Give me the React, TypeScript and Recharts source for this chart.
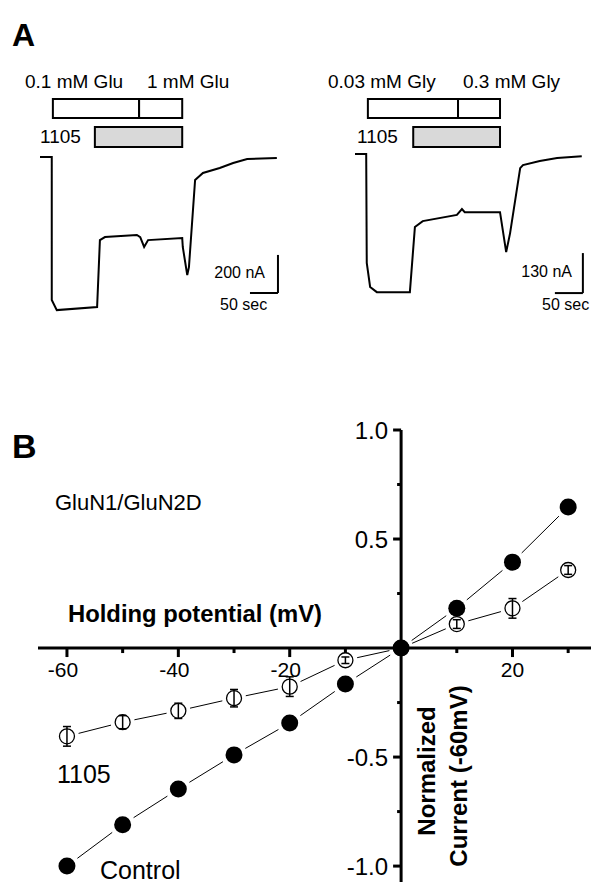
import { LineChart, Line, XAxis, YAxis, ReferenceArea, ReferenceLine, ErrorBar } from 'recharts';

const FONT = "'Liberation Sans', Arial, sans-serif";

// Panel A: current traces (time in sec, current in nA relative to baseline)
const gluTime = [0, 21, 21, 30, 102, 107, 116, 173, 179, 186, 193, 254, 255, 263, 266, 277, 291, 321, 345, 370, 423];
const gluCurrent = [0, 0, -752, -805, -789, -437, -421, -410, -421, -473, -437, -426, -473, -621, -579, -121, -84, -58, -32, -11, -5];
const glyTime = [0, 20, 21, 27, 39, 98, 107, 121, 182, 191, 196, 259, 270, 277, 295, 300, 330, 361, 405];
const glyCurrent = [0, 0, -354, -432, -449, -449, -237, -218, -198, -179, -189, -189, -319, -257, -46, -36, -23, -13, -7];

// application periods (sec)
const gluLow = [23, 177];
const gluHigh = [177, 254];
const gluDrug = [98, 254];
const glyLow = [23, 184];
const glyHigh = [184, 259];
const glyDrug = [104, 259];

// Panel B: I-V relation
const voltages = [-60, -50, -40, -30, -20, -10, 0, 10, 20, 30];
const controlCurrent = [-1.0, -0.81, -0.647, -0.49, -0.344, -0.165, 0, 0.183, 0.394, 0.647];
const drugCurrent = [-0.405, -0.34, -0.288, -0.23, -0.177, -0.056, 0, 0.11, 0.182, 0.358];
const drugSem = [0.045, 0.03, 0.035, 0.04, 0.045, 0.015, 0, 0.02, 0.045, 0.02];
const xTicks = [-60, -50, -40, -30, -20, -10, 0, 10, 20, 30];
const xLabelled = [-60, -40, -20, 20];
const yTicks = [-1, -0.75, -0.5, -0.25, 0, 0.25, 0.5, 0.75, 1];
const yLabelled = [-1, -0.5, 0.5, 1];

const ivData = voltages.map((v, i) => ({
  v,
  control: controlCurrent[i],
  drug: drugCurrent[i],
  drugErr: drugSem[i],
}));

interface TraceProps {
  time: number[];
  current: number[];
  left: number;
  width: number;
  xMax: number;
  yDomain: [number, number];
  low: number[];
  high: number[];
  drug: number[];
  boxes: { solTop: number; solBottom: number; drugTop: number; drugBottom: number };
  bar: { t: number; t0: number; y1: number; y2: number };
}

const Trace = ({ time, current, left, width, xMax, yDomain, low, high, drug, boxes, bar }: TraceProps) => {
  const data = time.map((t, i) => ({ t, i: current[i] }));
  return (
    <div style={{ position: 'absolute', left, top: 90 }}>
      <LineChart width={width} height={230} data={data} margin={{ top: 0, right: 0, bottom: 0, left: 0 }}>
        <XAxis type="number" dataKey="t" domain={[0, xMax]} hide />
        <YAxis type="number" domain={yDomain} hide />
        <ReferenceArea x1={low[0]} x2={low[1]} y1={boxes.solBottom} y2={boxes.solTop} fill="#fff" fillOpacity={1} stroke="#000" strokeWidth={2} />
        <ReferenceArea x1={high[0]} x2={high[1]} y1={boxes.solBottom} y2={boxes.solTop} fill="#fff" fillOpacity={1} stroke="#000" strokeWidth={2} />
        <ReferenceArea x1={drug[0]} x2={drug[1]} y1={boxes.drugBottom} y2={boxes.drugTop} fill="#d9d9d9" fillOpacity={1} stroke="#000" strokeWidth={2} />
        <ReferenceLine segment={[{ x: bar.t, y: bar.y1 }, { x: bar.t, y: bar.y2 }]} stroke="#000" strokeWidth={2} />
        <ReferenceLine segment={[{ x: bar.t0, y: bar.y2 }, { x: bar.t, y: bar.y2 }]} stroke="#000" strokeWidth={2} />
        <Line type="linear" dataKey="i" stroke="#000" strokeWidth={2} dot={false} isAnimationActive={false} />
      </LineChart>
    </div>
  );
};

// Panel B geometry
const B_W = 591;
const B_H = 485;
const B_M = { top: 30, right: 0, bottom: 2, left: 37 };
const vDomain: [number, number] = [-65.2, 34.1];
const iDomain: [number, number] = [-1.073, 1.0];
const plotW = B_W - B_M.left - B_M.right - 1;
const plotH = B_H - B_M.top - B_M.bottom - 1;
const ZERO_Y = B_M.top + (iDomain[1] / (iDomain[1] - iDomain[0])) * plotH;
const ZERO_X = B_M.left + 1 + (-vDomain[0] / (vDomain[1] - vDomain[0])) * plotW;
const kx = plotW / (vDomain[1] - vDomain[0]);
const ky = plotH / (iDomain[1] - iDomain[0]);

// dash pattern that leaves a small gap around every marker (Origin style)
const gapDash = (vals: number[], gap: number) => {
  const parts: number[] = [0, gap];
  for (let k = 1; k < voltages.length; k++) {
    const len = Math.hypot((voltages[k] - voltages[k - 1]) * kx, (vals[k] - vals[k - 1]) * ky);
    parts.push(Math.max(len - 2 * gap, 0), 2 * gap);
  }
  return parts.join(' ');
};

const XTick = ({ x, payload }: any) => {
  const v = payload.value;
  if (v === 0) return <g />;
  const major = v % 20 === 0;
  return (
    <g>
      <line x1={x} x2={x} y1={ZERO_Y} y2={ZERO_Y + (major ? 9 : 5)} stroke="#000" strokeWidth={3} />
      {xLabelled.includes(v) && (
        <text x={v < 0 ? x - 4 : x} y={ZERO_Y + 29} textAnchor="middle" fontSize={21} fontFamily={FONT} fill="#000">
          {v}
        </text>
      )}
    </g>
  );
};

const YTick = ({ y, payload }: any) => {
  const v = payload.value;
  if (v === 0) return <g />;
  const major = yLabelled.includes(v);
  return (
    <g>
      <line x1={ZERO_X - (major ? 8 : 4)} x2={ZERO_X} y1={y} y2={y} stroke="#000" strokeWidth={3} />
      {major && (
        <text x={ZERO_X - 13} y={y + 8.5} textAnchor="end" fontSize={24} fontFamily={FONT} fill="#000">
          {v.toFixed(1)}
        </text>
      )}
    </g>
  );
};

const filledDot = (props: any) => (
  <circle key={props.index} cx={props.cx} cy={props.cy} r={8.5} fill="#000" />
);

const openDot = (props: any) => (
  <circle key={props.index} cx={props.cx} cy={props.cy} r={7.5} fill="#fff" stroke="#000" strokeWidth={1.3} />
);

const IVChart = () => (
  <div style={{ position: 'absolute', left: 0, top: 400 }}>
    <LineChart width={B_W} height={B_H} data={ivData} margin={B_M}>
      <XAxis type="number" dataKey="v" domain={vDomain} ticks={xTicks} interval={0} axisLine={false} tickLine={false} tick={<XTick />} height={1} />
      <YAxis type="number" domain={iDomain} ticks={yTicks} interval={0} axisLine={false} tickLine={false} tick={<YTick />} width={1} />
      <ReferenceLine y={0} stroke="#000" strokeWidth={3} />
      <ReferenceLine x={0} stroke="#000" strokeWidth={3} />
      <Line dataKey="drug" stroke="#000" strokeWidth={1} strokeDasharray={gapDash(drugCurrent, 12)} dot={openDot} isAnimationActive={false} />
      <Line dataKey="drug" stroke="none" dot={false} isAnimationActive={false}>
        <ErrorBar dataKey="drugErr" direction="y" width={4} stroke="#000" strokeWidth={1.5} {...({ zIndex: 700 } as any)} />
      </Line>
      <Line dataKey="control" stroke="#000" strokeWidth={1} strokeDasharray={gapDash(controlCurrent, 13)} dot={filledDot} isAnimationActive={false} />
    </LineChart>
  </div>
);

const Labels = () => (
  <svg width={591} height={885} style={{ position: 'absolute', left: 0, top: 0, pointerEvents: 'none', whiteSpace: 'pre' }} fontFamily={FONT} fill="#000">
    <text x={12} y={46} fontSize={32} fontWeight="bold">A</text>
    <text x={25} y={88} fontSize={19}>0.1 mM  Glu</text>
    <text x={147} y={88} fontSize={19}>1 mM  Glu</text>
    <text x={40} y={143} fontSize={19}>1105</text>
    <text x={265} y={278} fontSize={16} textAnchor="end">200 nA</text>
    <text x={220} y={310} fontSize={16}>50 sec</text>
    <text x={328} y={88} fontSize={19}>0.03 mM  Gly</text>
    <text x={463} y={88} fontSize={19}>0.3 mM  Gly</text>
    <text x={357} y={143} fontSize={19}>1105</text>
    <text x={572} y={277} fontSize={16} textAnchor="end">130 nA</text>
    <text x={542} y={310} fontSize={16}>50 sec</text>

    <text x={12} y={458} fontSize={34} fontWeight="bold">B</text>
    <text x={55} y={510} fontSize={22}>GluN1/GluN2D</text>
    <text x={68} y={622} fontSize={24} fontWeight="bold" textLength={254} lengthAdjust="spacingAndGlyphs">Holding potential (mV)</text>
    <text x={57} y={783} fontSize={25}>1105</text>
    <text x={100} y={879} fontSize={25}>Control</text>
    <text transform="translate(435,771) rotate(-90)" textAnchor="middle" fontSize={24} fontWeight="bold">Normalized</text>
    <text transform="translate(467,776) rotate(-90)" textAnchor="middle" fontSize={24} fontWeight="bold">Current  (-60mV)</text>
  </svg>
);

const App = () => (
  <div style={{ position: 'absolute', left: 0, top: 0, width: 591, height: 885, background: '#fff', overflow: 'hidden' }}>
    <Trace
      time={gluTime}
      current={gluCurrent}
      left={40}
      width={250}
      xMax={446.5}
      yDomain={[-857, 352]}
      low={gluLow}
      high={gluHigh}
      drug={gluDrug}
      boxes={{ solTop: 305, solBottom: 205, drugTop: 158, drugBottom: 53 }}
      bar={{ t: 425, t0: 375, y1: -515, y2: -715 }}
    />
    <Trace
      time={glyTime}
      current={glyCurrent}
      left={355}
      width={236}
      xMax={421.5}
      yDomain={[-539.5, 208]}
      low={glyLow}
      high={glyHigh}
      drug={glyDrug}
      boxes={{ solTop: 179, solBottom: 117, drugTop: 88, drugBottom: 23 }}
      bar={{ t: 407, t0: 357, y1: -322, y2: -452 }}
    />
    <IVChart />
    <Labels />
  </div>
);

export default App;
